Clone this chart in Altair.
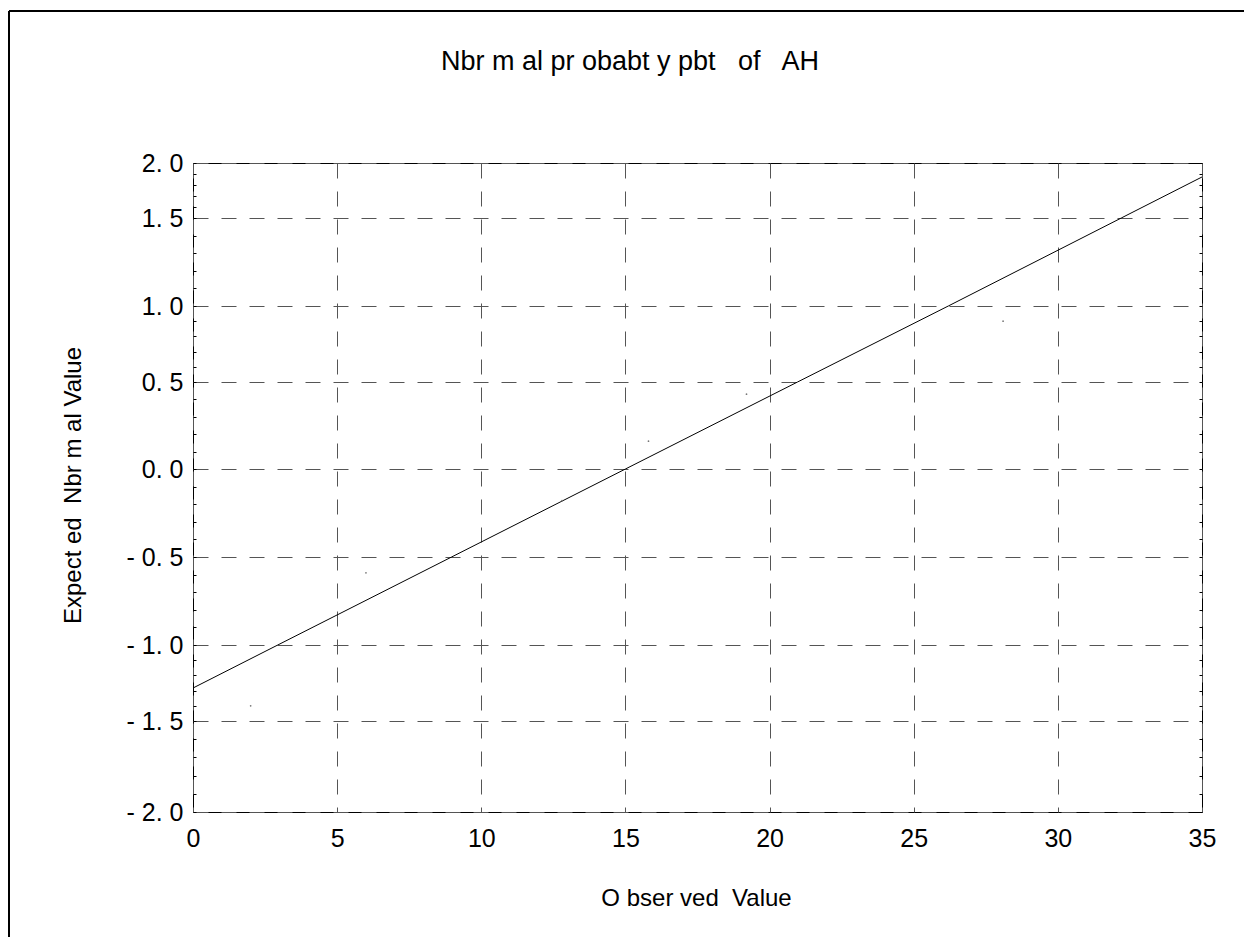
import altair as alt
import pandas as pd

# ---- texts (as they appear in the reference) ----
TITLE = "Nbr m al pr obabt y pbt \u00a0 of \u00a0 AH"
X_TITLE = "O bser ved \u00a0Value"
Y_TITLE = "Expect ed \u00a0Nbr m al Value"

# ---- observed points (tiny dots) ----
pt_x = [2.0, 6.0, 12.8, 15.8, 19.2, 28.1]
pt_y = [-1.40, -0.59, -0.18, 0.16, 0.43, 0.90]

# ---- reference line, read where it crosses the grid ----
line_x = [0.0, 2.94, 8.97, 15.0, 20.97, 26.2, 32.2, 35.0]
line_y = [-1.283, -1.0, -0.5, 0.0, 0.5, 1.0, 1.5, 1.873]

# ---- axes ----
x_ticks = [0, 5, 10, 15, 20, 25, 30, 35]
y_major = [-2.0, -1.5, -1.0, -0.5, 0.0, 0.5, 1.0, 1.5, 2.0]
y_minor = [round(-2.0 + 0.1 * i, 1) for i in range(41)]
# where the reference draws its horizontal grid (pixels from the plot top)
y_grid_pos = [649, 558, 482, 394, 306, 219, 143, 55, 0]

W, H = 1009, 649
FONT = "Liberation Sans Narrow, Liberation Sans, Arial"

pts = pd.DataFrame({"x": pt_x, "y": pt_y})
ln = pd.DataFrame({"x": line_x, "y": line_y})
one = pd.DataFrame({"t": [TITLE]})

xscale = alt.Scale(domain=[0, 35], nice=False, zero=False)
yscale = alt.Scale(domain=y_major, range=y_grid_pos, nice=False, zero=False)

is_major = "abs(datum.value*2 - round(datum.value*2)) < 0.001"

x_axis = alt.Axis(
    values=x_ticks, title=X_TITLE, grid=True, gridColor="#555555",
    gridDash=[15, 13], gridWidth=1, domain=False, ticks=False,
    labelFont=FONT, labelFontSize=25, labelColor="black", labelPadding=14,
    labelFlush=False, labelOverlap=False,
    titleFont=FONT, titleFontSize=24, titleFontWeight="normal", titleColor="black",
    titleX=503, titleY=86, titleBaseline="middle", titleAnchor="middle",
)

y_axis_left = alt.Axis(
    values=y_minor, title=Y_TITLE, grid=True, gridColor="#555555",
    gridDash=[15, 13], gridWidth=1,
    gridOpacity=alt.condition(is_major, alt.value(1), alt.value(0)),
    domain=False, ticks=True, tickSize=3, tickColor="black", offset=-3,
    labelExpr=is_major + " ? replace(replace(replace(format(datum.value, '.1f'), '.', '. '), '\u2212', '- '), '-', '- ') : ''",
    labelFont=FONT, labelFontSize=25, labelColor="black", labelPadding=10,
    labelBaseline="middle", labelFlush=False, labelOverlap=False,
    titleFont=FONT, titleFontSize=24, titleFontWeight="normal", titleColor="black",
    titleX=-123, titleY=322, titleAngle=-90, titleBaseline="middle", titleAnchor="middle",
)

y_axis_right = alt.Axis(
    values=y_minor, orient="right", title=None, grid=False, labels=False,
    domain=False, ticks=True, tickSize=3, tickColor="black", offset=-3,
)

line = alt.Chart(ln).mark_line(color="black", strokeWidth=1).encode(
    x=alt.X("x:Q", scale=xscale, axis=x_axis),
    y=alt.Y("y:Q", scale=yscale, axis=y_axis_left),
)

dots = alt.Chart(pts).mark_point(filled=True, size=3, color="#777777", opacity=1).encode(
    x=alt.X("x:Q", scale=xscale, axis=x_axis),
    y=alt.Y("y:Q", scale=yscale, axis=y_axis_right),
)

title_txt = alt.Chart(one).mark_text(
    font=FONT, fontSize=27, color="black", align="center", baseline="alphabetic"
).encode(text="t:N", x=alt.value(437), y=alt.value(-93))

frame_top = alt.Chart(pts).mark_rule(color="black", strokeWidth=2).encode(
    x=alt.value(-184), x2=alt.value(W + 42), y=alt.value(-152)
)
frame_left = alt.Chart(pts).mark_rule(color="black", strokeWidth=2).encode(
    x=alt.value(-184), y=alt.value(-152), y2=alt.value(H + 140)
)

chart = (
    alt.layer(line, dots, title_txt, frame_top, frame_left)
    .resolve_axis(y="independent")
    .resolve_scale(y="shared")
    .properties(
        width=W, height=H,
        autosize=alt.AutoSizeParams(type="none"),
        padding={"left": 185, "top": 155, "right": 42, "bottom": 125},
        background="white",
    )
    .configure_view(stroke="black", strokeWidth=1)
)

chart.save("out.html", embed_options={"renderer": "svg", "actions": False})
